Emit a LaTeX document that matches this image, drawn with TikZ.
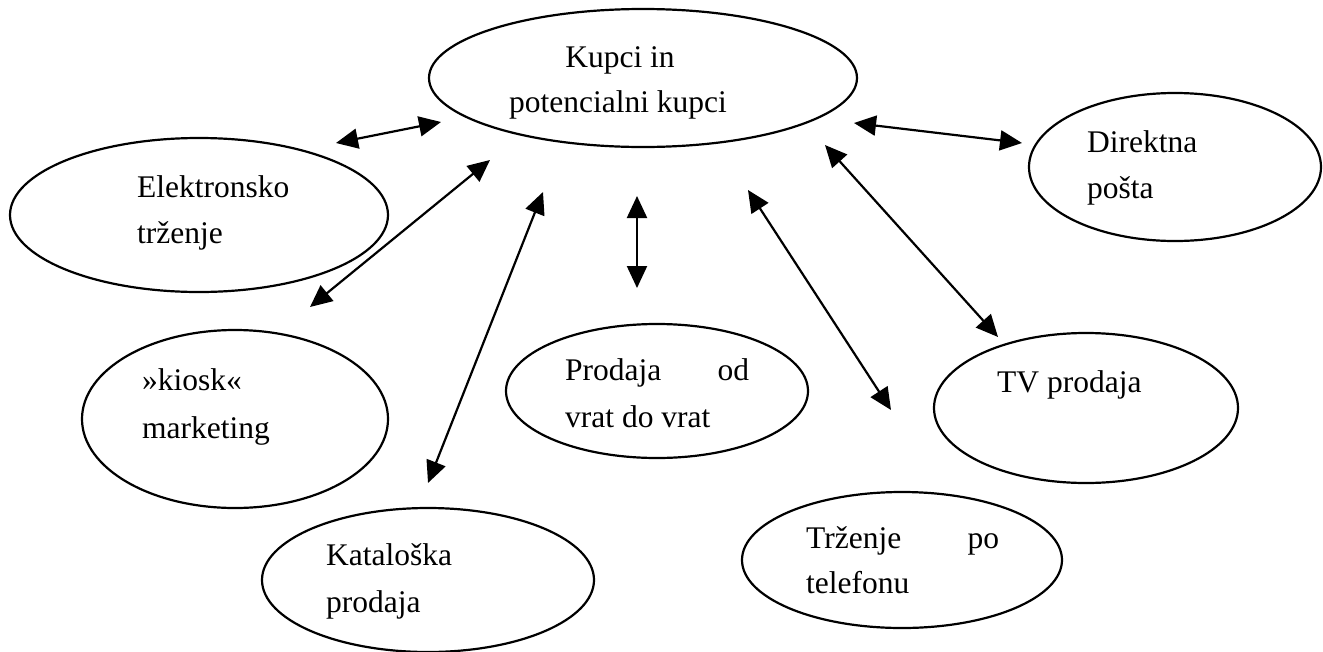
\documentclass[tikz,border=0pt]{standalone}
\usepackage{fontspec}
\setmainfont{Liberation Serif}
\usetikzlibrary{shapes.geometric,arrows.meta}
\tikzset{
  oval/.style={ellipse, draw, line width=2.2pt, inner sep=0pt},
  lbl/.style={inner sep=0pt, anchor=base west, font=\fontsize{31.5}{46}\selectfont},
  clbl/.style={lbl, anchor=base},
  link/.style={line width=2.2pt, {Triangle[length=22pt,width=20pt]}-{Triangle[length=22pt,width=20pt]}}
}
\begin{document}
\begin{tikzpicture}[x=1pt,y=-1pt]
\useasboundingbox (0,0) rectangle (1323,651);
% ellipses
\node[oval, minimum width=428pt, minimum height=138pt] (kupci) at (643,78) {};
\node[oval, minimum width=378pt, minimum height=154pt] (elek) at (199,215) {};
\node[oval, minimum width=292pt, minimum height=148pt] (direkt) at (1175,167) {};
\node[oval, minimum width=306pt, minimum height=178pt] (kiosk) at (235,419) {};
\node[oval, minimum width=302pt, minimum height=134pt] (vrata) at (657,391) {};
\node[oval, minimum width=304pt, minimum height=150pt] (tv) at (1086,408) {};
\node[oval, minimum width=332pt, minimum height=144pt] (katal) at (428,580) {};
\node[oval, minimum width=320pt, minimum height=136pt] (telef) at (902,560) {};
% labels
\node[clbl] (kupciA) at (620,67) {Kupci in};
\node[clbl] (kupciB) at (618,112) {potencialni kupci};
\node[lbl] (elekA) at (137,197) {Elektronsko};
\node[lbl] (elekB) at (137,243) {trženje};
\node[lbl] (direktA) at (1087,152) {Direktna};
\node[lbl] (direktB) at (1087,198) {pošta};
\node[lbl] (kioskA) at (142,390) {»kiosk«};
\node[lbl] (kioskB) at (142,438) {marketing};
\node[lbl] (vrataA) at (565,380) {\makebox[184pt][l]{Prodaja\hfill od}};
\node[lbl] (vrataB) at (565,427) {vrat do vrat};
\node[lbl] (tvA) at (997,392) {TV prodaja};
\node[lbl] (katalA) at (326,565) {Kataloška};
\node[lbl] (katalB) at (326,612) {prodaja};
\node[lbl] (telefA) at (806,548) {\makebox[193pt][l]{Trženje\hfill po}};
\node[lbl] (telefB) at (806,593) {telefonu};
% connector ends
\coordinate (a1) at (336,143); \coordinate (b1) at (441,122);
\coordinate (a2) at (310,307); \coordinate (b2) at (490,160);
\coordinate (a3) at (428,483); \coordinate (b3) at (543,192);
\coordinate (a4) at (637,288); \coordinate (b4) at (637,196);
\coordinate (a5) at (891,410); \coordinate (b5) at (748,190);
\coordinate (a6) at (998,337); \coordinate (b6) at (825,145);
\coordinate (a7) at (1022,143); \coordinate (b7) at (854,123);
% connectors
\draw[link] (a1) -- (b1);
\draw[link] (a2) -- (b2);
\draw[link] (a3) -- (b3);
\draw[link] (a4) -- (b4);
\draw[link] (a5) -- (b5);
\draw[link] (a6) -- (b6);
\draw[link] (a7) -- (b7);
\end{tikzpicture}
\end{document}
